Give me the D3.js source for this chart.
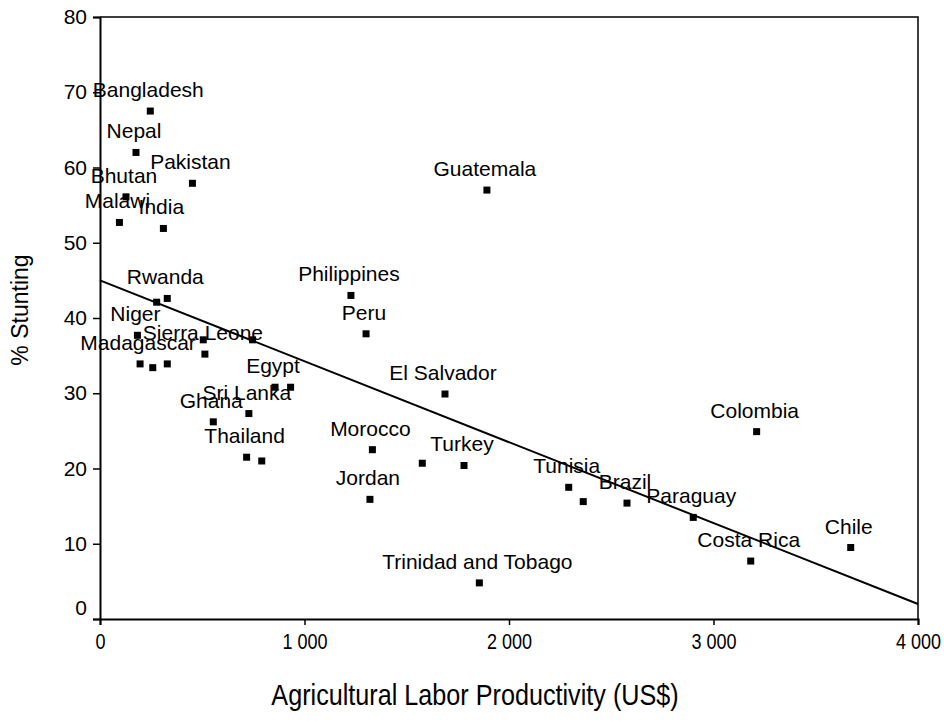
<!DOCTYPE html>
<html>
<head>
<meta charset="utf-8">
<script src="https://cdn.jsdelivr.net/npm/d3@7"></script>
<style>
  body { margin: 0; background: #fff; }
  svg text { font-family: "Liberation Sans", Arial, sans-serif; fill: #000; }
</style>
</head>
<body>
<script>
// Country labels ('' = unlabeled point)
let countries = ['Bangladesh', 'Nepal', 'Pakistan', 'Bhutan', 'Malawi', 'India', 'Guatemala',
    'Rwanda', '', 'Niger', 'Madagascar', '', '', '', 'Sierra Leone', '', 'Egypt', '',
    'Sri Lanka', 'Ghana', 'Thailand', '', 'Philippines', 'Peru', 'El Salvador', 'Morocco',
    '', 'Turkey', 'Jordan', 'Trinidad and Tobago', 'Tunisia', '', 'Brazil', 'Paraguay',
    'Colombia', 'Costa Rica', 'Chile'];

// Agricultural labor productivity (US$)
let productivity = [246, 176, 452, 127, 95, 310, 1892,
    329, 277, 183, 196, 258, 329, 505, 513, 746, 856, 932,
    728, 554, 717, 791, 1227, 1301, 1687, 1332,
    1576, 1780, 1320, 1855, 2292, 2363, 2577, 2901,
    3211, 3182, 3671];

// % stunting
let stunting = [67.5, 62.0, 57.9, 56.1, 52.7, 51.9, 57.0,
    42.6, 42.1, 37.7, 33.9, 33.4, 33.9, 37.1, 35.2, 37.1, 30.8, 30.8,
    27.3, 26.2, 21.5, 21.0, 43.0, 37.9, 29.9, 22.5,
    20.7, 20.4, 15.9, 4.8, 17.5, 15.6, 15.4, 13.5,
    24.9, 7.7, 9.5];

// Fitted trend line end points
let trendX = [0, 4000],
    trendY = [45.0, 2.0];

let xTicks = [0, 1000, 2000, 3000, 4000],
    yTicks = [0, 10, 20, 30, 40, 50, 60, 70, 80];

let width = 944, height = 724,
    margin = {top: 17, right: 26, bottom: 105, left: 100};

let svg = d3.select('body').append('svg')
    .attr('width', width)
    .attr('height', height);

let x = d3.scaleLinear().domain([0, 4000]).range([margin.left, width - margin.right]),
    y = d3.scaleLinear().domain([0, 80]).range([height - margin.bottom, margin.top]);

let fmt = d3.formatLocale({decimal: ',', thousands: ' ', grouping: [3], currency: ['', '']}).format(',');

// Frame top and right
svg.append('path')
    .attr('d', `M${x(0)},${y(80)}H${x(4000)}V${y(0)}`)
    .attr('fill', 'none')
    .attr('stroke', '#000')
    .attr('stroke-width', 1.5);

// Y axis
let yAxis = svg.append('g')
    .attr('transform', `translate(${x(0)},0)`)
    .call(d3.axisLeft(y).tickValues(yTicks).tickSize(7).tickPadding(6));
yAxis.select('.domain').attr('stroke-width', 2);
yAxis.selectAll('.tick line').attr('stroke-width', 1.5);
yAxis.selectAll('.tick text')
    .attr('font-size', 21)
    .attr('dy', (d) => d === 0 ? '-0.2em' : '0.32em');

// X axis (condensed labels)
let xAxis = svg.append('g')
    .attr('transform', `translate(0,${y(0)})`)
    .call(d3.axisBottom(x).tickValues(xTicks).tickFormat(fmt).tickSize(6).tickPadding(8));
xAxis.select('.domain').attr('stroke-width', 2);
xAxis.selectAll('.tick line').attr('stroke-width', 1.5);
xAxis.selectAll('.tick text')
    .attr('font-size', 22)
    .attr('transform', 'scale(0.82,1)');

// Axis titles
svg.append('text')
    .attr('transform', 'translate(475,705) scale(0.84,1)')
    .attr('text-anchor', 'middle')
    .attr('font-size', 30)
    .text('Agricultural Labor Productivity (US$)');

svg.append('text')
    .attr('transform', `translate(28,${(y(0) + y(80)) / 2 - 8}) rotate(-90)`)
    .attr('text-anchor', 'middle')
    .attr('font-size', 23)
    .text('% Stunting');

// Trend line
svg.append('line')
    .attr('x1', x(trendX[0])).attr('y1', y(trendY[0]))
    .attr('x2', x(trendX[1])).attr('y2', y(trendY[1]))
    .attr('stroke', '#000')
    .attr('stroke-width', 2);

let points = countries.map((c, i) => ({name: c, px: productivity[i], st: stunting[i]}));

// Markers
svg.append('g')
    .selectAll('rect')
    .data(points)
    .enter().append('rect')
    .attr('x', (d) => x(d.px) - 3.5)
    .attr('y', (d) => y(d.st) - 3.5)
    .attr('width', 7)
    .attr('height', 7)
    .attr('fill', '#000');

// Labels
svg.append('g')
    .selectAll('text')
    .data(points.filter((d) => d.name))
    .enter().append('text')
    .attr('x', (d) => x(d.px) - 2)
    .attr('y', (d) => y(d.st) - 14)
    .attr('text-anchor', 'middle')
    .attr('font-size', 21)
    .text((d) => d.name);
</script>
</body>
</html>
